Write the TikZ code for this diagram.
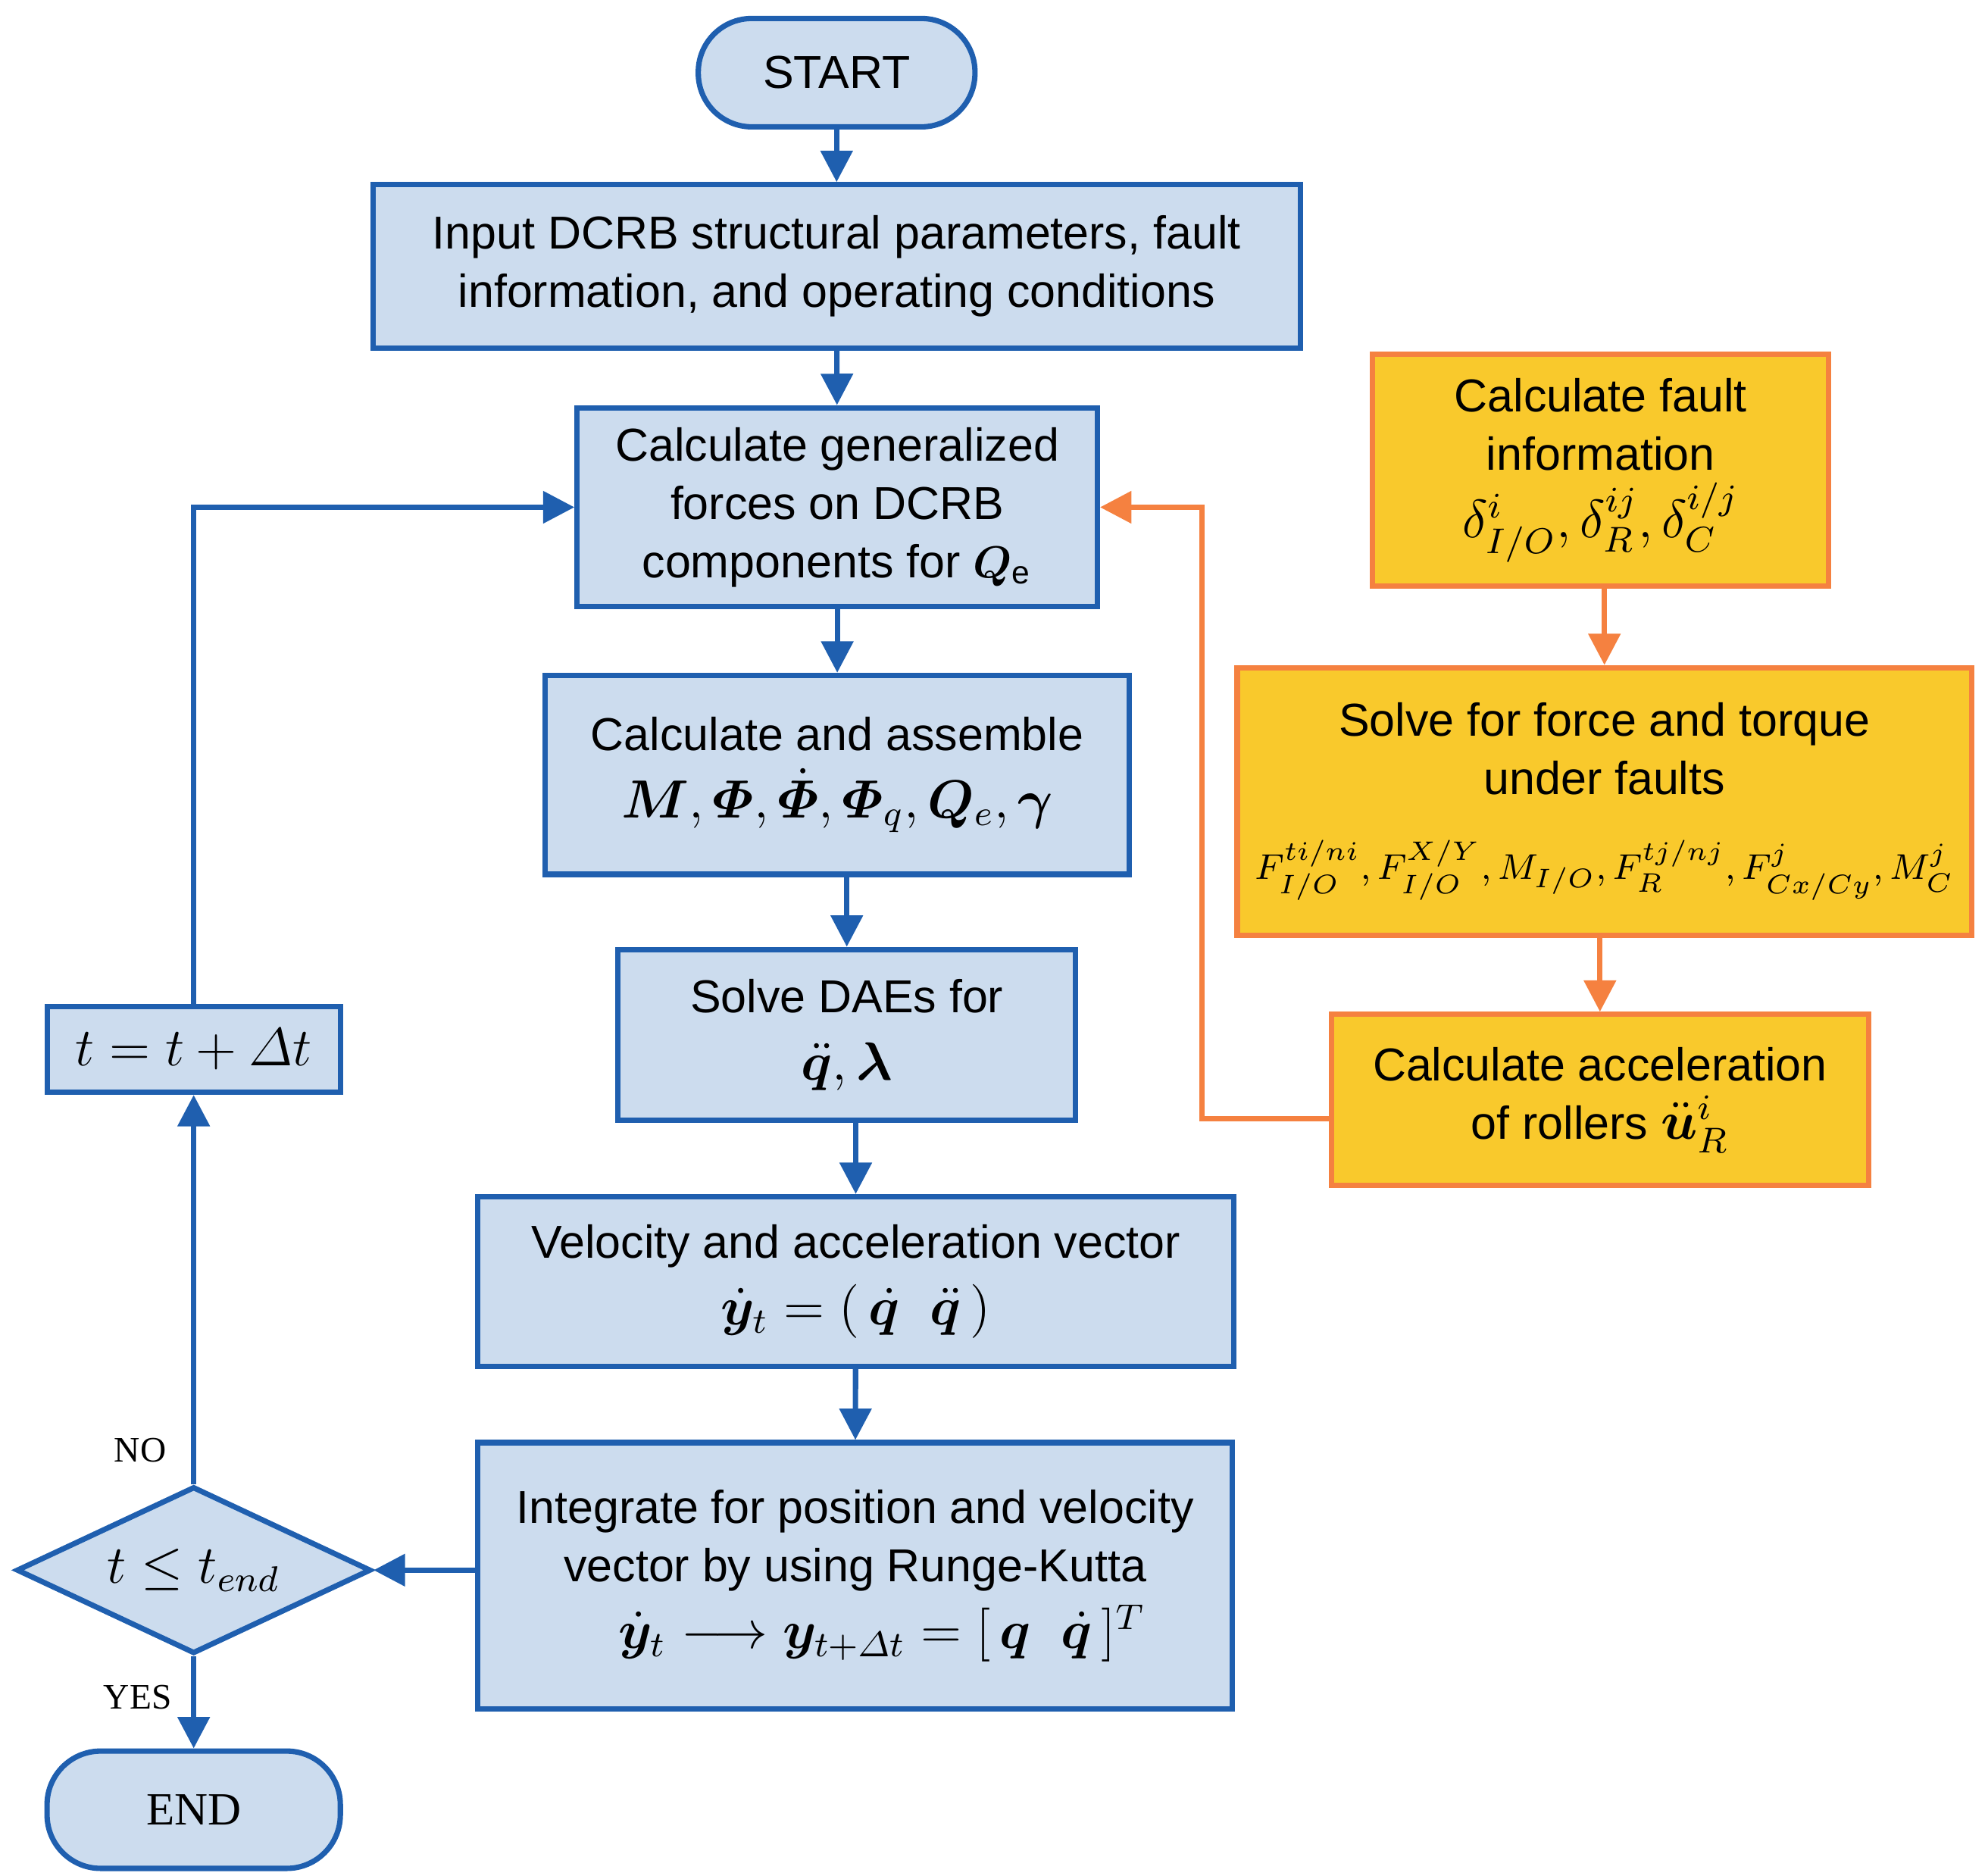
\documentclass[tikz,border=0pt]{standalone}
\usepackage{amsmath,bm}
\usepackage{fontspec}
\setmainfont{Liberation Sans}
\newfontfamily\serifF{Liberation Serif}
\usetikzlibrary{shapes.geometric,arrows.meta}
\definecolor{bfill}{HTML}{CCDCEE}
\definecolor{bline}{HTML}{1F5FAF}
\definecolor{ofill}{HTML}{F9C92C}
\definecolor{oline}{HTML}{F58140}
\begin{document}
\begin{tikzpicture}[x=0.01cm,y=-0.01cm,
  box/.style={draw=bline,fill=bfill,line width=1.2pt,align=center,font=\fontsize{10.3}{13}\selectfont,inner sep=1pt},
  obox/.style={draw=oline,fill=ofill,line width=1.2pt,align=center,font=\fontsize{10.3}{13}\selectfont,inner sep=1pt},
  term/.style={box,rounded corners=0.42cm},
  arr/.style={draw=bline,line width=1.2pt,-{Triangle[length=7pt,width=7pt]}},
  oarr/.style={draw=oline,line width=1.2pt,-{Triangle[length=7pt,width=7pt]}},
  lab/.style={font=\serifF\fontsize{8}{10}\selectfont}]
\useasboundingbox (0,0) rectangle (1560,1472);
\node[term,minimum width=2.17cm,minimum height=0.85cm] (start) at (656.5,57) {START};
\node[box,minimum width=7.27cm,minimum height=1.28cm] (input) at (656.5,209) {Input DCRB structural parameters, fault\\information, and operating conditions};
\node[box,minimum width=4.08cm,minimum height=1.56cm] (calc) at (657,398) {Calculate generalized\\forces on DCRB\\components for $\bm{Q}_{\mathrm e}$};
\node[box,minimum width=4.58cm,minimum height=1.56cm] (asm) at (657,608) {Calculate and assemble\\[2pt] \large $\bm{M},\bm{\varPhi},\dot{\bm\varPhi},\bm\varPhi_q,\bm Q_e,\bm\gamma$};
\node[box,minimum width=3.59cm,minimum height=1.34cm] (dae) at (664.5,812) {Solve DAEs for\\[2pt] \large $\ddot{\bm q},\bm\lambda$};
\node[box,minimum width=5.93cm,minimum height=1.33cm] (vel) at (671.5,1005.5) {Velocity and acceleration vector\\[2pt] \large $\dot{\bm y}_t=(\,\dot{\bm q}\;\;\ddot{\bm q}\,)$};
\node[box,minimum width=5.92cm,minimum height=2.09cm] (int) at (671,1236.5) {Integrate for position and velocity\\vector by using Runge-Kutta\\[2pt] \large\quad $\dot{\bm y}_t\longrightarrow\bm y_{t+\varDelta t}=[\,\bm q\;\;\dot{\bm q}\,]^T$};
\node[draw=bline,fill=bfill,line width=1.2pt,diamond,aspect=2.12,minimum width=2.78cm,minimum height=1.31cm,inner sep=0pt] (dec) at (152,1232) {\large $t\le t_{end}$};
\node[term,minimum width=2.3cm,minimum height=0.92cm,font=\serifF\fontsize{10.3}{12}\selectfont] (end) at (152,1420) {END};
\node[box,minimum width=2.3cm,minimum height=0.67cm] (tb) at (152,823.5) {\large $t=t+\varDelta t$};
\node[obox,minimum width=3.58cm,minimum height=1.82cm] (fault) at (1256,369) {Calculate fault\\information\\[2pt] \large $\delta^i_{I/O},\delta^{ij}_R,\delta^{i/j}_C$};
\node[obox,minimum width=5.76cm,minimum height=2.1cm] (solve) at (1259,629) {Solve for force and torque\\under faults\\[6pt] \footnotesize $F^{ti/ni}_{I/O},F^{X/Y}_{I/O},M_{I/O},F^{tj/nj}_R,F^j_{Cx/Cy},M^j_C$};
\node[obox,minimum width=4.21cm,minimum height=1.34cm] (acc) at (1255.5,863) {Calculate acceleration\\of rollers \large $\ddot{\bm u}^i_R$};
\draw[arr] (start) -- (input);
\draw[arr] (input) -- (calc);
\draw[arr] (calc) -- (asm);
\draw[arr] (asm.south -| dae.north) -- (dae.north);
\draw[arr] (dae.south -| vel.north) -- (vel.north);
\draw[arr] (vel) -- (int);
\draw[arr] (dec.east -| int.west) -- (dec.east);
\draw[arr] (dec.south) -- (end.north);
\draw[arr] (dec.north) -- (tb.south);
\node[lab] (yes) at (108,1332) {YES};
\node[lab] (no) at (110,1138) {NO};
\draw[arr] (tb.north) |- (calc.west);
\draw[oarr] (fault.south -| solve.north) -- (solve.north);
\draw[oarr] (solve.south -| acc.north) -- (acc.north);
\coordinate (ob) at (943,878);
\draw[oarr] (acc.west |- ob) -- (ob) |- (calc.east);
\end{tikzpicture}
\end{document}
